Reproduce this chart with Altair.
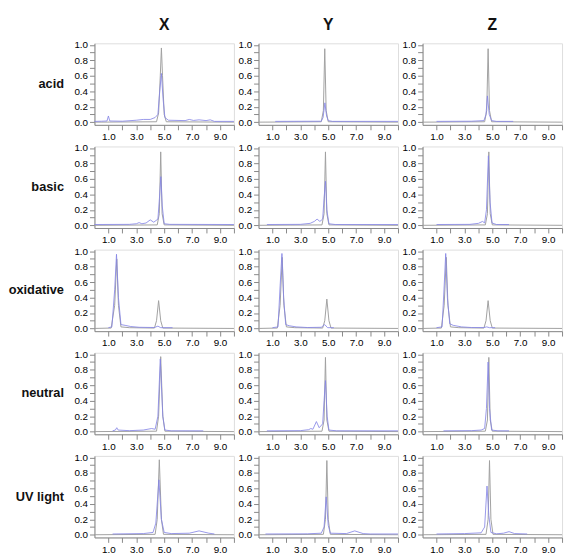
import altair as alt
import pandas as pd

CONDITIONS = ["acid", "basic", "oxidative", "neutral", "UV light"]
SAMPLES = ["X", "Y", "Z"]

# (time [min], relative absorbance) points
ACID_X_GREY = [(0.0, 0.0), (4.45, 0.005), (4.6, 0.12), (4.72, 0.6), (4.8, 0.96), (4.88, 0.6), (5.0, 0.1), (5.15, 0.005), (10.0, 0.0)]
ACID_X_BLUE = [(0.0, 0.01), (0.5, 0.012), (0.9, 0.015), (1.0, 0.08), (1.1, 0.015), (2.0, 0.012), (3.0, 0.025), (3.5, 0.035), (4.0, 0.035),
               (4.35, 0.06), (4.55, 0.1), (4.68, 0.4), (4.8, 0.63), (4.92, 0.3), (5.05, 0.06), (5.3, 0.025), (6.5, 0.02), (6.8, 0.035),
               (7.1, 0.022), (7.5, 0.03), (8.0, 0.02), (8.3, 0.03), (8.6, 0.01), (10.0, 0.01)]
ACID_Y_GREY = [(0.0, 0.0), (4.5, 0.005), (4.65, 0.15), (4.75, 0.95), (4.85, 0.15), (5.0, 0.005), (10.0, 0.0)]
ACID_Y_BLUE = [(1.2, 0.01), (4.5, 0.012), (4.63, 0.06), (4.76, 0.25), (4.88, 0.08), (5.0, 0.02), (5.3, 0.01), (10.0, 0.01)]
ACID_Z_GREY = [(0.0, 0.0), (4.45, 0.005), (4.6, 0.15), (4.7, 0.95), (4.8, 0.15), (4.95, 0.005), (10.0, 0.0)]
ACID_Z_BLUE = [(1.0, 0.01), (3.5, 0.012), (4.4, 0.02), (4.55, 0.1), (4.65, 0.34), (4.78, 0.1), (4.95, 0.02), (5.3, 0.01), (6.5, 0.01)]

BASIC_X_GREY = [(0.0, 0.0), (4.5, 0.005), (4.65, 0.15), (4.75, 0.95), (4.85, 0.15), (5.0, 0.005), (10.0, 0.0)]
BASIC_X_BLUE = [(0.0, 0.01), (2.5, 0.012), (3.0, 0.02), (3.2, 0.035), (3.4, 0.02), (3.7, 0.03), (4.0, 0.07), (4.25, 0.04),
                (4.55, 0.08), (4.66, 0.35), (4.76, 0.63), (4.86, 0.25), (5.0, 0.02), (5.4, 0.012), (10.0, 0.01)]
BASIC_Y_GREY = [(0.0, 0.0), (4.55, 0.005), (4.7, 0.15), (4.8, 0.95), (4.9, 0.15), (5.05, 0.005), (10.0, 0.0)]
BASIC_Y_BLUE = [(0.6, 0.01), (3.0, 0.012), (3.7, 0.025), (4.0, 0.05), (4.2, 0.08), (4.4, 0.05), (4.6, 0.08), (4.7, 0.35),
                (4.8, 0.57), (4.9, 0.2), (5.05, 0.02), (5.5, 0.01), (10.0, 0.01)]
BASIC_Z_GREY = [(0.0, 0.0), (4.5, 0.005), (4.65, 0.15), (4.75, 0.95), (4.85, 0.15), (5.0, 0.005), (10.0, 0.0)]
BASIC_Z_BLUE = [(1.0, 0.01), (3.4, 0.012), (4.0, 0.025), (4.3, 0.05), (4.45, 0.03), (4.58, 0.2), (4.72, 0.9), (4.84, 0.3),
                (4.98, 0.03), (5.3, 0.01), (6.2, 0.01)]

OXID_X_GREY = [(0.0, 0.0), (1.2, 0.005), (1.45, 0.3), (1.6, 0.9), (1.72, 0.3), (1.9, 0.02), (2.5, 0.01), (4.3, 0.005),
               (4.45, 0.1), (4.6, 0.36), (4.75, 0.1), (4.9, 0.005), (10.0, 0.0)]
OXID_X_BLUE = [(1.0, 0.01), (1.25, 0.02), (1.45, 0.5), (1.58, 0.96), (1.72, 0.4), (1.9, 0.05), (2.2, 0.04), (2.6, 0.025),
               (3.2, 0.015), (4.3, 0.012), (4.55, 0.03), (4.75, 0.01), (5.6, 0.01)]
OXID_Y_GREY = [(0.0, 0.0), (1.35, 0.005), (1.55, 0.3), (1.7, 0.92), (1.82, 0.3), (2.0, 0.02), (2.6, 0.01), (4.6, 0.005),
               (4.75, 0.1), (4.9, 0.38), (5.05, 0.1), (5.2, 0.005), (10.0, 0.0)]
OXID_Y_BLUE = [(1.0, 0.01), (1.4, 0.02), (1.55, 0.55), (1.68, 0.97), (1.8, 0.4), (1.95, 0.05), (2.2, 0.035), (2.7, 0.02),
               (3.5, 0.012), (4.5, 0.015), (4.75, 0.05), (4.95, 0.01), (5.4, 0.01)]
OXID_Z_GREY = [(0.0, 0.0), (1.35, 0.005), (1.55, 0.3), (1.7, 0.92), (1.82, 0.3), (2.0, 0.02), (2.6, 0.01), (4.4, 0.005),
               (4.55, 0.1), (4.7, 0.36), (4.85, 0.1), (5.0, 0.005), (10.0, 0.0)]
OXID_Z_BLUE = [(1.0, 0.01), (1.4, 0.02), (1.55, 0.55), (1.66, 0.97), (1.78, 0.4), (1.95, 0.06), (2.2, 0.04), (2.8, 0.02),
               (3.5, 0.012), (4.4, 0.012), (4.6, 0.02), (4.8, 0.01), (5.2, 0.01)]

NEUTRAL_X_GREY = [(0.0, 0.0), (4.45, 0.005), (4.6, 0.2), (4.75, 0.97), (4.9, 0.2), (5.05, 0.005), (10.0, 0.0)]
NEUTRAL_X_BLUE = [(1.3, 0.01), (1.5, 0.02), (1.6, 0.05), (1.7, 0.02), (2.5, 0.012), (3.5, 0.02), (4.1, 0.04), (4.35, 0.03),
                  (4.55, 0.2), (4.72, 0.94), (4.9, 0.2), (5.05, 0.02), (5.5, 0.01), (7.8, 0.01)]
NEUTRAL_Y_GREY = [(0.0, 0.0), (4.55, 0.005), (4.7, 0.15), (4.8, 0.96), (4.9, 0.15), (5.05, 0.005), (10.0, 0.0)]
NEUTRAL_Y_BLUE = [(0.6, 0.01), (3.0, 0.012), (3.6, 0.025), (3.75, 0.04), (3.9, 0.03), (4.15, 0.13), (4.35, 0.05), (4.6, 0.1),
                  (4.7, 0.4), (4.8, 0.66), (4.92, 0.2), (5.05, 0.02), (5.6, 0.01), (10.0, 0.01)]
NEUTRAL_Z_GREY = [(0.0, 0.0), (4.5, 0.005), (4.65, 0.15), (4.75, 0.96), (4.85, 0.15), (5.0, 0.005), (10.0, 0.0)]
NEUTRAL_Z_BLUE = [(1.5, 0.01), (3.5, 0.012), (4.2, 0.02), (4.45, 0.04), (4.58, 0.3), (4.7, 0.9), (4.8, 0.3), (4.95, 0.02),
                  (5.4, 0.01), (6.2, 0.01)]

UV_X_GREY = [(0.0, 0.0), (4.35, 0.005), (4.5, 0.2), (4.65, 0.97), (4.8, 0.2), (4.95, 0.005), (10.0, 0.0)]
UV_X_BLUE = [(1.3, 0.01), (3.5, 0.015), (4.2, 0.03), (4.4, 0.15), (4.62, 0.71), (4.8, 0.2), (5.0, 0.03), (5.5, 0.015),
             (6.8, 0.02), (7.5, 0.05), (8.2, 0.02), (8.6, 0.01)]
UV_Y_GREY = [(0.0, 0.0), (4.65, 0.005), (4.8, 0.2), (4.9, 0.96), (5.0, 0.2), (5.15, 0.005), (10.0, 0.0)]
UV_Y_BLUE = [(0.5, 0.01), (3.5, 0.012), (4.5, 0.02), (4.7, 0.1), (4.85, 0.49), (5.0, 0.12), (5.15, 0.02), (6.3, 0.015),
             (6.9, 0.05), (7.5, 0.015), (8.0, 0.01), (10.0, 0.01)]
UV_Z_GREY = [(0.0, 0.0), (4.55, 0.005), (4.7, 0.2), (4.8, 0.96), (4.9, 0.2), (5.05, 0.005), (10.0, 0.0)]
UV_Z_BLUE = [(1.0, 0.01), (3.0, 0.015), (4.2, 0.025), (4.45, 0.1), (4.62, 0.63), (4.75, 0.25), (4.9, 0.03), (5.3, 0.012),
             (5.8, 0.02), (6.2, 0.04), (6.6, 0.015), (7.5, 0.01)]

CURVES = [
    ("acid", "X", ACID_X_GREY, ACID_X_BLUE), ("acid", "Y", ACID_Y_GREY, ACID_Y_BLUE), ("acid", "Z", ACID_Z_GREY, ACID_Z_BLUE),
    ("basic", "X", BASIC_X_GREY, BASIC_X_BLUE), ("basic", "Y", BASIC_Y_GREY, BASIC_Y_BLUE), ("basic", "Z", BASIC_Z_GREY, BASIC_Z_BLUE),
    ("oxidative", "X", OXID_X_GREY, OXID_X_BLUE), ("oxidative", "Y", OXID_Y_GREY, OXID_Y_BLUE), ("oxidative", "Z", OXID_Z_GREY, OXID_Z_BLUE),
    ("neutral", "X", NEUTRAL_X_GREY, NEUTRAL_X_BLUE), ("neutral", "Y", NEUTRAL_Y_GREY, NEUTRAL_Y_BLUE), ("neutral", "Z", NEUTRAL_Z_GREY, NEUTRAL_Z_BLUE),
    ("UV light", "X", UV_X_GREY, UV_X_BLUE), ("UV light", "Y", UV_Y_GREY, UV_Y_BLUE), ("UV light", "Z", UV_Z_GREY, UV_Z_BLUE),
]

rows = []
for cond, samp, grey, blue in CURVES:
    for t, v in grey:
        rows.append({"condition": cond, "sample": samp, "series": "reference", "t": t, "v": v})
    for t, v in blue:
        rows.append({"condition": cond, "sample": samp, "series": "stressed", "t": t, "v": v})
df = pd.DataFrame(rows)

X_TICKS = [1, 2, 3, 4, 5, 6, 7, 8, 9, 10]
Y_TICKS = [0, 0.1, 0.2, 0.3, 0.4, 0.5, 0.6, 0.7, 0.8, 0.9, 1.0]

x_enc = alt.X("t:Q", scale=alt.Scale(domain=[0, 10], nice=False),
              axis=alt.Axis(values=X_TICKS, format=".1f", title=None, grid=False))
y_enc = alt.Y("v:Q", scale=alt.Scale(domain=[-0.035, 1.02], nice=False, zero=False),
              axis=alt.Axis(values=Y_TICKS, format=".1f", title=None, grid=False, labelFlush=True))

base = alt.Chart(df).encode(x=x_enc, y=y_enc)
grey_line = base.transform_filter(alt.datum.series == "reference").mark_line(color="#a0a0a0", strokeWidth=1)
blue_line = base.transform_filter(alt.datum.series == "stressed").mark_line(color="#8585e6", strokeWidth=1, opacity=0.85)

chart = (
    alt.layer(grey_line, blue_line)
    .properties(width=142, height=83)
    .facet(
        row=alt.Row("condition:N", sort=CONDITIONS, title=None,
                    header=alt.Header(labelAngle=0, labelOrient="left", labelAlign="left",
                                      labelFont="Liberation Sans", labelFontWeight="bold", labelFontSize=13,
                                      labelColor="#111111", labelPadding=9)),
        column=alt.Column("sample:N", sort=SAMPLES, title=None,
                          header=alt.Header(labelFont="Liberation Sans", labelFontWeight="bold", labelFontSize=16,
                                            labelColor="#111111", labelPadding=7)),
        spacing={"row": 0, "column": 0},
    )
    .resolve_axis(x="independent", y="independent")
    .configure_view(stroke="#c4c4c4", strokeWidth=1)
    .configure_axis(labelFontSize=12, labelColor="#a0a0a0", tickSize=2, tickColor="#b0b0b0",
                    domainColor="#c4c4c4", labelPadding=0, labelFont="Liberation Sans")
    .configure(padding={"top": 4, "left": 0, "right": 0, "bottom": 0})
)

chart.save("out.html", embed_options={"renderer": "svg", "actions": False})
